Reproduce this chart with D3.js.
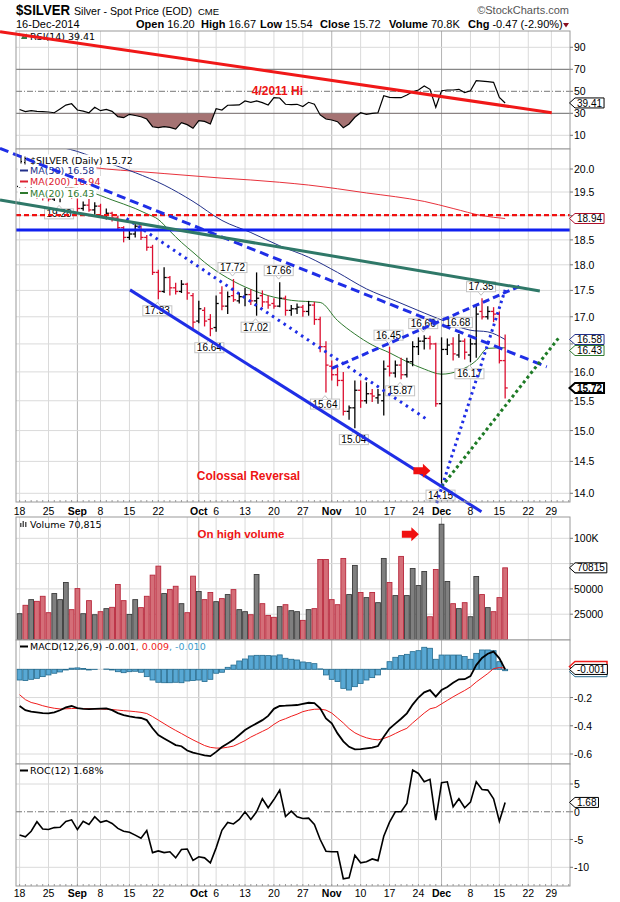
<!DOCTYPE html>
<html>
<head>
<meta charset="utf-8">
<script src="https://cdn.jsdelivr.net/npm/d3@7"></script>
<style>
body { margin: 0; background: #fff; }
text { font-family: "Liberation Sans", Arial, sans-serif; }
.lg { font-family: "DejaVu Sans", Verdana, sans-serif; font-size: 9.5px; }
</style>
</head>
<body>
<svg id="chart" width="620" height="902"></svg>
<script>
// trading days shown, 18-Aug-2014 .. 16-Dec-2014
const dates = [
 "08-18","08-19","08-20","08-21","08-22","08-25","08-26","08-27","08-28","08-29",
 "09-02","09-03","09-04","09-05","09-08","09-09","09-10","09-11","09-12","09-15",
 "09-16","09-17","09-18","09-19","09-22","09-23","09-24","09-25","09-26","09-29","09-30",
 "10-01","10-02","10-03","10-06","10-07","10-08","10-09","10-10","10-13","10-14",
 "10-15","10-16","10-17","10-20","10-21","10-22","10-23","10-24","10-27","10-28",
 "10-29","10-30","10-31",
 "11-03","11-04","11-05","11-06","11-07","11-10","11-11","11-12","11-13","11-14",
 "11-17","11-18","11-19","11-20","11-21","11-24","11-25","11-26","11-28",
 "12-01","12-02","12-03","12-04","12-05","12-08","12-09","12-10","12-11","12-12",
 "12-15","12-16"];

const prevClose = 19.60;
const openPx = [19.62,19.75,19.48,19.52,19.42,19.38,19.35,19.42,19.48,19.58,
 19.40,19.15,19.22,19.12,19.20,19.00,19.05,18.95,18.75,18.55,
 18.62,18.78,18.55,18.35,17.85,17.48,17.75,17.55,17.48,17.62,17.40,
 16.92,17.12,16.95,16.80,17.45,17.20,17.40,17.30,17.38,17.42,
 17.30,17.40,17.28,17.25,17.20,17.35,17.12,17.15,17.18,17.10,
 17.22,16.95,16.45,
 16.10,15.95,15.85,15.32,15.38,15.68,15.50,15.62,15.55,15.50,
 16.10,15.98,16.12,15.95,16.18,16.45,16.55,16.60,16.50,
 15.45,16.40,16.50,16.30,16.55,16.30,16.50,17.10,17.00,17.10,
 17.05,16.20];
const highPx = [19.88,19.78,19.62,19.58,19.52,19.48,19.50,19.55,19.65,19.62,
 19.42,19.30,19.35,19.28,19.25,19.15,19.08,19.00,18.78,18.72,
 18.85,18.80,18.60,18.40,17.90,17.95,17.78,17.65,17.70,17.65,17.45,
 17.30,17.18,17.05,17.40,17.58,17.48,17.72,17.45,17.55,17.52,
 17.85,17.50,17.40,17.35,17.66,17.40,17.22,17.25,17.22,17.30,
 17.28,17.00,16.55,
 16.20,16.08,16.00,15.42,15.85,15.85,15.82,15.70,15.70,16.20,
 16.45,16.20,16.25,16.25,16.55,16.62,16.66,16.65,16.52,
 16.62,16.60,16.62,16.68,16.60,16.60,17.20,17.35,17.20,17.18,
 17.10,16.67];
const lowPx = [19.55,19.38,19.40,19.35,19.32,19.30,19.31,19.28,19.40,19.35,
 19.05,19.10,19.08,19.02,18.95,18.92,18.88,18.68,18.45,18.50,
 18.55,18.50,18.28,17.80,17.33,17.45,17.40,17.42,17.45,17.32,16.78,
 16.88,16.82,16.64,16.72,17.12,17.05,17.28,17.25,17.20,17.22,
 17.02,17.18,17.15,17.15,17.18,17.02,17.02,17.05,17.00,17.02,
 16.85,16.35,15.64,
 15.85,15.75,15.25,15.18,15.04,15.38,15.45,15.48,15.45,15.25,
 15.92,15.90,15.87,15.90,16.10,16.30,16.40,16.40,15.40,
 14.15,16.30,16.20,16.25,16.22,16.17,16.25,16.95,16.95,16.90,
 16.15,15.54];
const closePx = [19.75,19.48,19.52,19.42,19.38,19.35,19.42,19.48,19.58,19.40,
 19.15,19.22,19.12,19.20,19.00,19.05,18.95,18.75,18.55,18.62,
 18.78,18.55,18.35,17.85,17.48,17.75,17.55,17.48,17.62,17.45,16.90,
 17.15,16.92,16.78,17.25,17.20,17.38,17.32,17.38,17.42,17.30,
 17.35,17.28,17.22,17.20,17.35,17.12,17.15,17.18,17.10,17.22,
 16.95,16.45,16.12,
 15.95,15.85,15.32,15.38,15.68,15.50,15.62,15.58,15.60,16.05,
 15.98,16.12,15.95,16.18,16.45,16.55,16.60,16.50,15.45,
 16.40,16.48,16.32,16.55,16.35,16.50,17.05,17.00,17.10,17.05,
 16.20,15.72];
const volume = [25500,33800,39400,37700,42700,26500,45400,39400,56300,29500,
 50300,25500,38400,24500,27500,30500,31800,54300,38400,24800,
 39400,31500,42700,63600,72500,45400,49300,52600,35400,26500,62600,
 47400,39400,46400,37400,40400,44400,49300,29500,27500,24500,
 64200,35400,23800,21900,32500,34400,28500,27500,18900,29500,
 30500,79100,79100,
 39400,34400,80100,44400,73200,46400,41400,46400,36400,80100,
 56300,43400,82100,43400,70200,53300,67200,22500,69200,
 113900,57300,35400,30500,36400,22500,62300,44400,31500,27500,
 41400,70815];

// moving averages: [trading-day index, value]
const ma50 = [[0,20.75],[5,20.55],[10,20.39],[15,20.15],[20,19.92],[25,19.65],[30,19.30],[35,18.90],
 [40,18.65],[45,18.38],[50,18.15],[55,17.85],[60,17.53],[65,17.30],[70,17.07],[73,16.94],[78,16.75],[81,16.72],[84,16.58]];
const ma200 = [[0,20.28],[5,20.18],[10,20.08],[15,20.00],[20,19.95],[25,19.90],[30,19.85],[35,19.80],
 [40,19.76],[45,19.71],[50,19.65],[55,19.57],[60,19.48],[65,19.40],[70,19.30],[75,19.15],[80,19.00],[84,18.94]];
const ma20 = [[0,19.80],[4,19.72],[8,19.62],[12,19.51],[16,19.33],[20,19.15],[22,19.04],[24,18.92],[26,18.68],
 [28,18.45],[30,18.25],[32,18.05],[34,17.88],[36,17.74],[38,17.62],[40,17.52],[43,17.40],[47,17.31],[52,17.27],
 [55,16.93],[58,16.68],[61,16.48],[64,16.34],[67,16.18],[70,16.05],[73,15.96],[76,16.02],[79,16.20],[81,16.42],[84,16.43]];

const rsi14 = [33.5,31.5,32.4,31.8,31.5,31.2,30.5,34,37.5,38.7,
 33,32,30.5,35.5,32.4,33.6,31.8,26.9,26,29.1,
 28,26.9,24.8,17.8,16.9,17.8,17.2,15.7,21.5,19.7,16.4,
 23.3,22.7,20.3,34.2,33,37.3,37.5,37.6,41.2,40,
 41.2,39.7,37.6,44.2,43.9,38.2,37.9,38.2,36.1,40,
 38.2,28.5,24.8,
 23.9,22.4,16.9,20.3,26.4,30.5,29.1,30,30.5,46,
 44.5,44.2,44.2,46.7,49.6,51.2,54.8,51.8,35.5,
 50.5,51.2,51.2,51.8,48.8,50.5,59.6,59.2,58.8,58.2,
 44.5,39.41];

const macdLine = [-0.26,-0.29,-0.30,-0.305,-0.31,-0.312,-0.305,-0.29,-0.27,-0.26,
 -0.275,-0.28,-0.282,-0.28,-0.278,-0.277,-0.289,-0.31,-0.324,-0.334,
 -0.34,-0.345,-0.36,-0.418,-0.466,-0.49,-0.513,-0.537,-0.545,-0.575,-0.59,
 -0.60,-0.61,-0.615,-0.585,-0.55,-0.525,-0.50,-0.465,-0.43,-0.405,
 -0.383,-0.36,-0.33,-0.28,-0.26,-0.258,-0.255,-0.253,-0.245,-0.237,
 -0.24,-0.277,-0.348,
 -0.383,-0.454,-0.51,-0.549,-0.567,-0.565,-0.56,-0.555,-0.544,-0.478,
 -0.42,-0.385,-0.35,-0.312,-0.25,-0.20,-0.163,-0.147,-0.194,
 -0.147,-0.125,-0.095,-0.071,-0.07,-0.048,0.03,0.08,0.11,0.125,
 0.078,-0.001];
const macdSignal = [-0.18,-0.215,-0.235,-0.245,-0.258,-0.268,-0.276,-0.281,-0.280,-0.278,
 -0.277,-0.278,-0.279,-0.280,-0.281,-0.283,-0.285,-0.289,-0.293,-0.296,
 -0.300,-0.305,-0.313,-0.335,-0.36,-0.385,-0.41,-0.433,-0.455,-0.478,-0.50,
 -0.52,-0.54,-0.553,-0.558,-0.558,-0.552,-0.544,-0.525,-0.505,-0.48,
 -0.46,-0.44,-0.42,-0.39,-0.365,-0.35,-0.333,-0.318,-0.30,-0.29,
 -0.283,-0.282,-0.289,
 -0.31,-0.345,-0.38,-0.42,-0.45,-0.47,-0.485,-0.495,-0.50,-0.49,
 -0.475,-0.455,-0.435,-0.418,-0.38,-0.345,-0.31,-0.28,-0.27,
 -0.245,-0.22,-0.195,-0.172,-0.15,-0.125,-0.09,-0.06,-0.03,0.005,
 0.012,0.009];
const macdHist = [-0.076,-0.08,-0.071,-0.064,-0.052,-0.04,-0.028,-0.019,-0.005,0.008,
 0.01,0.005,-0.005,-0.002,0,0.002,-0.005,-0.017,-0.024,-0.017,
 -0.014,-0.021,-0.052,-0.076,-0.092,-0.095,-0.095,-0.092,-0.095,-0.083,-0.08,
 -0.076,-0.087,-0.071,-0.028,-0.021,0.014,0.03,0.059,0.073,0.095,
 0.099,0.099,0.097,0.095,0.102,0.078,0.071,0.066,0.052,0.047,
 0.04,0.003,-0.04,
 -0.071,-0.087,-0.135,-0.147,-0.123,-0.10,-0.076,-0.059,-0.04,0.007,
 0.054,0.085,0.097,0.106,0.125,0.132,0.156,0.149,0.071,
 0.101,0.101,0.101,0.101,0.09,0.071,0.113,0.137,0.137,0.132,
 0.054,-0.010];

const roc12 = [-4.2,-4.5,-3.5,-1.8,-3.1,-3.2,-2.85,-2.8,-1.75,-1.45,
 -3.2,-1.7,-2.3,-0.9,-1.9,-1.6,-2.1,-3.0,-3.5,-3.7,
 -4.2,-4.77,-3.38,-7.36,-7.05,-7.36,-7.2,-8.3,-6.8,-6.7,-8.75,
 -8.1,-8.3,-9.2,-6.5,-3.33,-1.93,-2.2,-1.39,0,-1.39,
 0,2.35,0.72,2.2,3.9,-0.85,0.12,-0.9,-1.2,-1.15,
 -2.3,-5.0,-7.1,
 -7.2,-7.2,-12.06,-11.9,-7.84,-9.2,-9.0,-8.5,-8.8,-4.4,
 -1.88,0,0,1.5,7.5,6.9,5.4,5.84,-1.5,
 5.24,5.4,0.9,2.35,0.72,1.74,5.4,4.0,3.9,2.35,
 -1.7,1.68];

// x-axis: weekly gridlines (trading-day index, incl. future days) and their labels
const weekIdx = [0,5,10,14,19,24,29,31,34,39,44,49,54,59,64,69,73,78,83,88,92];
const weekLabels = ["18","25","Sep","8","15","22","","Oct","6","13","20","27","Nov","10","17","24","Dec","8","15","22","29"];

const priceTicks = [14,14.5,15,15.5,16,16.5,17,17.5,18,18.5,19,19.5,20];
const rsiTicks = [10,30,50,70,90];
const volTicks = [25000,50000,75000,100000];
const volTickLabels = ["25000","50000","75000","100K"];
const macdTicks = [-0.6,-0.4,-0.2,0];
const rocTicks = [-10,-5,0,5];

// high / low callouts
const calloutIdx = [7,24,33,37,41,45,53,58,64,66,70,73,76,78,80];
const calloutSide = ["L","L","L","H","L","H","L","L","H","L","H","L","H","L","H"];

// hand-drawn annotations, in data units [index, value]
const trendLines = [
  {id: "downDash", p: [[-3.39, 20.46], [91.2, 16.09]]},
  {id: "wedgeTop", p: [[54.0, 16.06], [86.9, 17.60]]},
  {id: "dotDown",  p: [[18.5, 18.94], [70.7, 15.17]]},
  {id: "dotUp",    p: [[72.16, 13.85], [84.0, 17.51]]},
  {id: "greenUp",  p: [[73.0, 14.10], [93.2, 16.60]]},
  {id: "channel",  p: [[19.1, 17.51], [79.9, 13.72]]},
  {id: "teal",     p: [[-3.39, 19.33], [90.0, 17.49]]}
];
const hLevels = [{id: "redDash", v: 19.01}, {id: "blueFlat", v: 18.70}];
const rsiTrend = [[-3.39, 104.2], [92.06, 30.5]];

const lineStyles = {
  downDash: {c: "#1f2ee6", w: 3, dash: "9,5"},
  wedgeTop: {c: "#1f2ee6", w: 3, dash: "7,4"},
  dotDown:  {c: "#1f2ee6", w: 3, dash: "2.5,4.5"},
  dotUp:    {c: "#1f2ee6", w: 3, dash: "2.5,3.5"},
  greenUp:  {c: "#1d7a25", w: 3, dash: "3,3"},
  channel:  {c: "#1f2ee6", w: 3, dash: null},
  teal:     {c: "#2f7868", w: 3, dash: null},
  redDash:  {c: "#f01010", w: 2.2, dash: "5,3"},
  blueFlat: {c: "#1020f0", w: 3, dash: null}
};

const svg = d3.select("#chart");
const L = 16, R = 570;
const x = d3.scaleLinear().domain([-0.623, 95.22]).range([L, R]);

const P = {
  rsi:   {top: 31,  bottom: 149},
  price: {top: 149, bottom: 502},
  vol:   {top: 517, bottom: 640},
  macd:  {top: 640, bottom: 764},
  roc:   {top: 764, bottom: 886}
};

const yRsi = d3.scaleLinear().domain([0, 100]).range([146.3, 36.3]);
const yPrice = d3.scaleLog().domain([14, 20]).range([493.3, 169]);
const yVol = d3.scaleLinear().domain([0, 100000]).range([639.5, 538.3]);
const yMacd = d3.scaleLinear().domain([-0.6, 0]).range([754, 669.3]);
const yRoc = d3.scaleLinear().domain([-10, 5]).range([867.3, 784]);

const RED = "#dc1030", UPC = "#000";
const isUp = i => closePx[i] >= (i === 0 ? prevClose : closePx[i - 1]);

const defs = svg.append("defs");
Object.entries(P).forEach(([k, p]) => {
  defs.append("clipPath").attr("id", "clip-" + k)
    .append("rect").attr("x", L).attr("y", p.top).attr("width", R - L).attr("height", p.bottom - p.top);
});

// ---------- header ----------
const hdr = svg.append("g");
hdr.append("text").attr("x", 16).attr("y", 15).attr("font-size", 14).attr("font-weight", "bold")
  .attr("textLength", 54).attr("lengthAdjust", "spacingAndGlyphs").text("$SILVER");
hdr.append("text").attr("x", 74).attr("y", 14.5).attr("font-size", 11)
  .attr("textLength", 118).attr("lengthAdjust", "spacingAndGlyphs").text("Silver - Spot Price (EOD)");
hdr.append("text").attr("x", 198).attr("y", 14.5).attr("font-size", 9.5).text("CME");
hdr.append("text").attr("x", 569).attr("y", 14).attr("font-size", 11).attr("fill", "#555")
  .attr("text-anchor", "end").text("\u00a9StockCharts.com");
hdr.append("text").attr("x", 16).attr("y", 27.5).attr("font-size", 11).text("16-Dec-2014");
const quote = [["Open", "16.20", 136], ["High", "16.67", 201], ["Low", "15.54", 260],
  ["Close", "15.72", 320], ["Volume", "70.8K", 389], ["Chg", "-0.47 (-2.90%)", 468]];
quote.forEach(q => {
  const t = hdr.append("text").attr("x", q[2]).attr("y", 27.5).attr("font-size", 11);
  t.append("tspan").attr("font-weight", "bold").text(q[0]);
  t.append("tspan").text(" " + q[1]);
});
hdr.append("path").attr("d", "M563,23 L569,23 L566,27.5 Z").attr("fill", "#8b1020");

// ---------- helpers ----------
function frame(p) {
  const g = svg.append("g");
  g.append("rect").attr("x", L).attr("y", p.top).attr("width", R - L).attr("height", p.bottom - p.top)
    .attr("fill", "#fff").attr("stroke", "none");
  weekIdx.forEach((wi, k) => {
    const month = isNaN(+weekLabels[k]) && weekLabels[k] !== "";
    g.append("line").attr("x1", x(wi)).attr("x2", x(wi)).attr("y1", p.top).attr("y2", p.bottom)
      .attr("stroke", month ? "#b4b4b4" : "#dadada").attr("stroke-width", 1);
  });
  return g;
}
function hGrid(g, ys, color) {
  ys.forEach(y => g.append("line").attr("x1", L).attr("x2", R).attr("y1", y).attr("y2", y)
    .attr("stroke", color || "#dadada"));
}
function border(p) {
  svg.append("rect").attr("x", L).attr("y", p.top).attr("width", R - L).attr("height", p.bottom - p.top)
    .attr("fill", "none").attr("stroke", "#9a9a9a");
}
// tick labels; a label that sits under a value tag is left out, as the tag hides it
function rightLabels(vals, ys, fmt, tagYs) {
  vals.forEach((v, k) => {
    svg.append("line").attr("x1", R).attr("x2", R + 3).attr("y1", ys[k]).attr("y2", ys[k]).attr("stroke", "#777");
    if ((tagYs || []).some(ty => Math.abs(ty - ys[k]) < 8)) return;
    svg.append("text").attr("x", 574).attr("y", ys[k] + 4).attr("font-size", 10.5).text(fmt(v, k));
  });
}
const TH = 5;   // half height of a value tag
function tag(y, txt, color, bold, bw, hidden) {
  const g = svg.append("g");
  const path = g.append("path");
  let w = 28;
  if (!hidden) {
    const t = g.append("text").attr("x", 577).attr("y", y + 3.6).attr("font-size", 10)
      .attr("font-weight", bold ? "bold" : null).text(txt);
    w = t.node().getComputedTextLength();
  }
  const r = 577 + w + 2;
  path.attr("d", `M${R - 0.5},${y} L575,${y - TH} L${r},${y - TH} L${r},${y + TH} L575,${y + TH} Z`)
    .attr("fill", "#fff").attr("stroke", color).attr("stroke-width", bw || 1);
}
function xLabels(yBase) {
  weekIdx.forEach((wi, k) => {
    const s = weekLabels[k];
    if (!s) return;
    svg.append("text").attr("x", x(wi)).attr("y", yBase).attr("text-anchor", "middle").attr("font-size", 10.5)
      .attr("font-weight", isNaN(+s) ? "bold" : null).text(s);
  });
}
function dayTicks(y) {
  d3.range(0, 96).forEach(i => svg.append("line").attr("x1", x(i)).attr("x2", x(i))
    .attr("y1", y - 2).attr("y2", y).attr("stroke", "#999"));
}
function legendSwatch(g, y, color) {
  g.append("line").attr("x1", 20).attr("x2", 28).attr("y1", y - 3.5).attr("y2", y - 3.5)
    .attr("stroke", color).attr("stroke-width", 2);
}
const idx = d3.range(dates.length);

// ---------- RSI panel ----------
{
  const p = P.rsi;
  const g = frame(p);
  hGrid(g, [yRsi(90), yRsi(10)]);
  [30, 70].forEach(v => g.append("line").attr("x1", L).attr("x2", R).attr("y1", yRsi(v)).attr("y2", yRsi(v))
    .attr("stroke", "#6a6a6a"));
  g.append("line").attr("x1", L).attr("x2", R).attr("y1", yRsi(50)).attr("y2", yRsi(50))
    .attr("stroke", "#777").attr("stroke-dasharray", "6,2,1,2");
  defs.append("clipPath").attr("id", "clip-rsi-low").append("rect")
    .attr("x", L).attr("y", yRsi(30)).attr("width", R - L).attr("height", p.bottom - yRsi(30));
  g.append("path").datum(rsi14).attr("clip-path", "url(#clip-rsi-low)")
    .attr("d", d3.area().x((d, i) => x(i)).y0(yRsi(30)).y1(d => yRsi(d)))
    .attr("fill", "#a57373");
  g.append("path").datum(rsi14).attr("d", d3.line().x((d, i) => x(i)).y(d => yRsi(d)))
    .attr("fill", "none").attr("stroke", "#000").attr("stroke-width", 1.2);
  const lg = svg.append("g");
  lg.append("path").attr("d", "M21,39 L23,35 L25,37 L27,33 L27,39 Z").attr("fill", "#3a7a4a");
  lg.append("text").attr("class", "lg").attr("x", 30).attr("y", 39.5).text("RSI(14) 39.41");
  border(p);
  rightLabels(rsiTicks, rsiTicks.map(yRsi), v => v);
  svg.append("path").datum(rsiTrend).attr("d", d3.line().x(d => x(d[0])).y(d => yRsi(d[1])))
    .attr("stroke", "#f01818").attr("stroke-width", 3);
  tag(yRsi(39.41), "39.41", "#000");
}

// ---------- price panel ----------
{
  const p = P.price;
  const g = frame(p);
  hGrid(g, priceTicks.map(yPrice));
  const clip = svg.append("g").attr("clip-path", "url(#clip-price)");
  const maLine = d3.line().curve(d3.curveMonotoneX).x(d => x(d[0])).y(d => yPrice(d[1]));
  clip.append("path").datum(ma200).attr("d", maLine).attr("fill", "none").attr("stroke", "#e8323c").attr("stroke-width", 1);
  clip.append("path").datum(ma50).attr("d", maLine).attr("fill", "none").attr("stroke", "#22308a").attr("stroke-width", 1);
  clip.append("path").datum(ma20).attr("d", maLine).attr("fill", "none").attr("stroke", "#2f7a2f").attr("stroke-width", 1);

  const bars = clip.selectAll("g.bar").data(idx).join("g")
    .attr("stroke", i => isUp(i) ? UPC : RED).attr("stroke-width", 1.3);
  bars.append("line").attr("x1", i => x(i)).attr("x2", i => x(i))
    .attr("y1", i => yPrice(highPx[i])).attr("y2", i => yPrice(lowPx[i]));
  bars.append("line").attr("x1", i => x(i) - 2.6).attr("x2", i => x(i))
    .attr("y1", i => yPrice(openPx[i])).attr("y2", i => yPrice(openPx[i]));
  bars.append("line").attr("x1", i => x(i)).attr("x2", i => x(i) + 2.6)
    .attr("y1", i => yPrice(closePx[i])).attr("y2", i => yPrice(closePx[i]));

  // callouts
  calloutIdx.forEach((ci, k) => {
    const hi = calloutSide[k] === "H";
    const v = hi ? highPx[ci] : lowPx[ci];
    const cx = x(ci) - 1, py = yPrice(v);
    const cg = svg.append("g");
    const rect = cg.append("rect");
    const t = cg.append("text").attr("x", cx).attr("text-anchor", "middle").attr("font-size", 10)
      .attr("y", hi ? py - 8 : py + 15).text(v.toFixed(2));
    const w = t.node().getComputedTextLength() + 4;
    const top = hi ? py - 16.5 : py + 6.5;
    rect.attr("x", cx - w / 2).attr("y", top).attr("width", w).attr("height", 10)
      .attr("fill", "#fff").attr("stroke", "#c4c4c4");
    const ty = hi ? top + 10 : top;
    cg.insert("path", "text").attr("d", hi
      ? `M${cx - 3},${ty} L${cx},${ty + 3.5} L${cx + 3},${ty}`
      : `M${cx - 3},${ty} L${cx},${ty - 3.5} L${cx + 3},${ty}`)
      .attr("fill", "#fff").attr("stroke", "#c4c4c4");
  });

  // legend rows with white backing
  const legend = [
    {t: "$SILVER (Daily) 15.72", c: "#000", sw: null, y: 163.5},
    {t: "MA(50) 16.58", c: "#22308a", sw: "#22308a", y: 174},
    {t: "MA(200) 18.94", c: "#dd2030", sw: "#dd2030", y: 185},
    {t: "MA(20) 16.43", c: "#2f7a2f", sw: "#2f7a2f", y: 196.5}
  ];
  legend.forEach(r => {
    const lg = svg.append("g");
    const bg = lg.append("rect");
    const t = lg.append("text").attr("class", "lg").attr("x", 30).attr("y", r.y).attr("fill", r.c).text(r.t);
    const w = t.node().getComputedTextLength();
    bg.attr("x", 18).attr("y", r.y - 9).attr("width", w + 14).attr("height", 11).attr("fill", "#fff");
    if (r.sw) legendSwatch(lg, r.y, r.sw);
    else {
      lg.append("path").attr("d", `M21,${r.y - 8} V${r.y} M20,${r.y - 6} H21 M21,${r.y - 2} H22 M25,${r.y - 7} V${r.y + 1} M24,${r.y - 1} H25 M25,${r.y - 5} H26`)
        .attr("stroke", "#000").attr("fill", "none");
    }
  });

  // horizontal levels and trend lines
  hLevels.forEach(h => {
    const s = lineStyles[h.id];
    svg.append("line").attr("x1", L).attr("x2", R).attr("y1", yPrice(h.v)).attr("y2", yPrice(h.v))
      .attr("stroke", s.c).attr("stroke-width", s.w).attr("stroke-dasharray", s.dash);
  });
  trendLines.forEach(tl => {
    const s = lineStyles[tl.id];
    svg.append("path").datum(tl.p).attr("d", d3.line().x(d => x(d[0])).y(d => yPrice(d[1])))
      .attr("fill", "none").attr("stroke", s.c).attr("stroke-width", s.w).attr("stroke-dasharray", s.dash);
  });

  border(p);
  // value tags, pushed apart when they would collide
  const priceTags = [
    {v: 18.94, c: "#b0102a"}, {v: 16.58, c: "#22308a"}, {v: 16.43, c: "#2f7a2f"}, {v: 15.72, c: "#000", b: true}
  ];
  let lastY = -Infinity;
  priceTags.forEach(t => {
    t.y = Math.max(yPrice(t.v), lastY + 2 * TH + 1);
    lastY = t.y;
  });
  rightLabels(priceTicks, priceTicks.map(yPrice), v => v.toFixed(1), priceTags.map(t => t.y));
  priceTags.forEach(t => tag(t.y, t.v.toFixed(2), t.c, t.b, t.b ? 2 : 1));
  dayTicks(p.bottom);
  xLabels(514.5);
}

// ---------- volume panel ----------
{
  const p = P.vol;
  const g = frame(p);
  hGrid(g, volTicks.map(yVol));
  const clip = svg.append("g").attr("clip-path", "url(#clip-vol)");
  clip.selectAll("rect.v").data(idx).join("rect")
    .attr("x", i => x(i) - 2.4).attr("width", 4.8)
    .attr("y", i => yVol(volume[i])).attr("height", i => yVol(0) - yVol(volume[i]))
    .attr("fill", i => isUp(i) ? "#7f7f7f" : "#d46e78")
    .attr("stroke", i => isUp(i) ? "#3a3a3a" : "#b8283c").attr("stroke-width", 0.9);
  const lg = svg.append("g");
  lg.append("path").attr("d", "M20,527 h1.5v-4h-1.5z M22.5,527 h1.5v-6h-1.5z M25,527 h1.5v-5h-1.5z").attr("fill", "#555");
  lg.append("text").attr("class", "lg").attr("x", 30).attr("y", 527.5).text("Volume 70,815");
  border(p);
  rightLabels(volTicks, volTicks.map(yVol), (v, k) => volTickLabels[k], [yVol(70815)]);
  tag(yVol(70815), "70815", "#000");
}

// ---------- MACD panel ----------
{
  const p = P.macd;
  const g = frame(p);
  hGrid(g, macdTicks.map(yMacd));
  const clip = svg.append("g").attr("clip-path", "url(#clip-macd)");
  clip.selectAll("rect.h").data(idx).join("rect")
    .attr("x", i => x(i) - 2.5).attr("width", 5)
    .attr("y", i => Math.min(yMacd(0), yMacd(macdHist[i])))
    .attr("height", i => Math.abs(yMacd(macdHist[i]) - yMacd(0)))
    .attr("fill", "#58a8d4").attr("stroke", "#236a8e").attr("stroke-width", 0.8);
  clip.append("path").datum(macdSignal).attr("d", d3.line().x((d, i) => x(i)).y(d => yMacd(d)))
    .attr("fill", "none").attr("stroke", "#f01c1c").attr("stroke-width", 1);
  clip.append("path").datum(macdLine).attr("d", d3.line().x((d, i) => x(i)).y(d => yMacd(d)))
    .attr("fill", "none").attr("stroke", "#000").attr("stroke-width", 1.8);
  const lg = svg.append("g");
  legendSwatch(lg, 650, "#000");
  const t = lg.append("text").attr("class", "lg").attr("x", 30).attr("y", 650);
  t.append("tspan").text("MACD(12,26,9) -0.001");
  t.append("tspan").attr("fill", "#f01c1c").text(", 0.009");
  t.append("tspan").attr("fill", "#3a9ccc").text(", -0.010");
  border(p);
  rightLabels([-0.6, -0.4, -0.2], [-0.6, -0.4, -0.2].map(yMacd), v => v.toFixed(1));
  // histogram and signal tags sit under the MACD tag; only their edges show
  tag(yMacd(-0.010) + 1, "-0.010", "#236a8e", false, 1, true);
  tag(yMacd(0.009) - 1.5, "0.009", "#f01c1c", false, 1.5, true);
  tag(yMacd(-0.001), "-0.001", "#000");
}

// ---------- ROC panel ----------
{
  const p = P.roc;
  const g = frame(p);
  hGrid(g, [5, -5, -10].map(yRoc));
  g.append("line").attr("x1", L).attr("x2", R).attr("y1", yRoc(0)).attr("y2", yRoc(0))
    .attr("stroke", "#777").attr("stroke-dasharray", "6,2,1,2");
  svg.append("g").attr("clip-path", "url(#clip-roc)").append("path").datum(roc12)
    .attr("d", d3.line().x((d, i) => x(i)).y(d => yRoc(d)))
    .attr("fill", "none").attr("stroke", "#000").attr("stroke-width", 1.6);
  const lg = svg.append("g");
  legendSwatch(lg, 774, "#000");
  lg.append("text").attr("class", "lg").attr("x", 30).attr("y", 774).text("ROC(12) 1.68%");
  border(p);
  rightLabels(rocTicks, rocTicks.map(yRoc), v => v);
  tag(yRoc(1.68), "1.68", "#000");
  dayTicks(p.bottom);
  xLabels(897);
}

// ---------- text notes and arrows ----------
const notes = [
  {y: yRsi, i: 44.6, v: 50.5, text: "4/2011 Hi", size: 12},
  {y: yPrice, i: 39.6, v: 14.27, text: "Colossal Reversal", size: 12},
  {y: yVol, i: 38.3, v: 105000, text: "On high volume", size: 11.5}
];
notes.forEach(n => svg.append("text").attr("x", x(n.i)).attr("y", n.y(n.v) + 4.5)
  .attr("text-anchor", "middle").attr("font-size", n.size).attr("font-weight", "bold")
  .attr("fill", "#ee1414").text(n.text));

const arrows = [{y: yPrice, i: 69.6, v: 14.35}, {y: yVol, i: 67.6, v: 104000}];
arrows.forEach(a => {
  const cx = x(a.i), cy = a.y(a.v);
  svg.append("path")
    .attr("d", `M${cx - 8.5},${cy - 3.5} H${cx + 1} V${cy - 7} L${cx + 8.5},${cy} L${cx + 1},${cy + 7} V${cy + 3.5} H${cx - 8.5} Z`)
    .attr("fill", "#f01010");
});
</script>
</body>
</html>
